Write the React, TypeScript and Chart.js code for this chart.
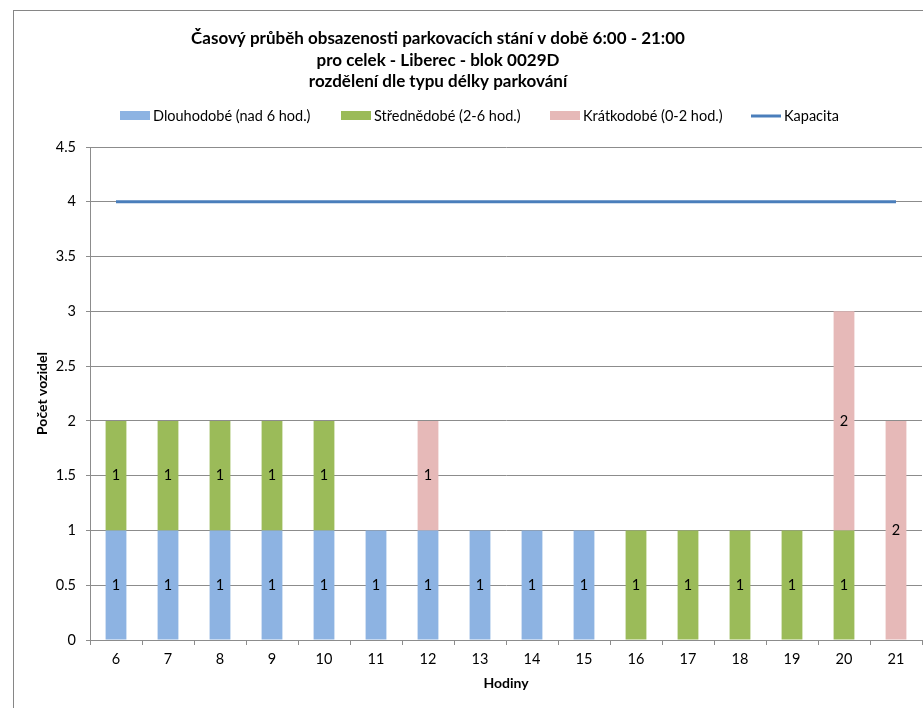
import React, { useEffect, useRef } from 'react';
import { Chart, registerables } from 'chart.js';

Chart.register(...registerables);

const hours = ['6', '7', '8', '9', '10', '11', '12', '13', '14', '15', '16', '17', '18', '19', '20', '21'];
const longTerm = [1, 1, 1, 1, 1, 1, 1, 1, 1, 1, null, null, null, null, null, null];
const midTerm = [1, 1, 1, 1, 1, null, null, null, null, null, 1, 1, 1, 1, 1, null];
const shortTerm = [null, null, null, null, null, null, 1, null, null, null, null, null, null, null, 2, 2];
const capacity = [4, 4, 4, 4, 4, 4, 4, 4, 4, 4, 4, 4, 4, 4, 4, 4];

const titleLines = [
  'Časový průběh obsazenosti parkovacích stání v době 6:00 - 21:00',
  'pro celek - Liberec - blok 0029D',
  'rozdělení dle typu délky parkování',
];
const seriesNames = ['Dlouhodobé (nad 6 hod.)', 'Střednědobé (2-6 hod.)', 'Krátkodobé (0-2 hod.)', 'Kapacita'];
const yAxisTitle = 'Počet vozidel';
const xAxisTitle = 'Hodiny';

const FONT = 'Lato, "Liberation Sans", sans-serif';
const COLORS = ['#8DB3E2', '#9BBB59', '#E6B9B8', '#4A7EBB'];
const GRID = '#8C8C8C';
const FS = 14.5;

const decorPlugin = {
  id: 'decor',
  beforeDraw(chart: any) {
    const ctx = chart.ctx;
    ctx.save();
    ctx.fillStyle = '#fff';
    ctx.fillRect(0, 0, chart.width, chart.height);
    ctx.strokeStyle = '#868686';
    ctx.lineWidth = 1;
    ctx.strokeRect(13.5, 10.5, chart.width + 20, chart.height + 20);
    ctx.restore();
  },
  afterDraw(chart: any) {
    const ctx = chart.ctx;
    ctx.save();
    ctx.fillStyle = '#000';
    ctx.textAlign = 'center';
    ctx.textBaseline = 'middle';
    ctx.font = `bold 17px ${FONT}`;
    const titleY = [39, 61, 82];
    titleLines.forEach((t, i) => ctx.fillText(t, 438, titleY[i]));
    ctx.font = `${FS}px ${FONT}`;
    ctx.textAlign = 'left';
    const starts = [120, 341, 550, 751];
    const ly = 116;
    seriesNames.forEach((name, i) => {
      const x = starts[i];
      if (i < 3) {
        ctx.fillStyle = COLORS[i];
        ctx.fillRect(x, ly - 5, 30, 9);
      } else {
        ctx.strokeStyle = COLORS[i];
        ctx.lineWidth = 3;
        ctx.beginPath();
        ctx.moveTo(x, ly);
        ctx.lineTo(x + 30, ly);
        ctx.stroke();
      }
      ctx.fillStyle = '#000';
      ctx.fillText(name, x + 33, ly);
    });
    ctx.restore();
  },
  afterDatasetsDraw(chart: any) {
    const ctx = chart.ctx;
    ctx.save();
    ctx.font = `${FS}px ${FONT}`;
    ctx.fillStyle = '#000';
    ctx.textAlign = 'center';
    ctx.textBaseline = 'middle';
    chart.data.datasets.forEach((ds: any, di: number) => {
      if (ds.type === 'line') return;
      const meta = chart.getDatasetMeta(di);
      meta.data.forEach((el: any, i: number) => {
        const v = ds.data[i];
        if (v == null || v === 0) return;
        ctx.fillText(String(v), el.x, (el.y + el.base) / 2);
      });
    });
    ctx.restore();
  },
};

export default function App() {
  const ref = useRef<HTMLCanvasElement | null>(null);
  useEffect(() => {
    if (!ref.current) return;
    const barCommon = { categoryPercentage: 1, barPercentage: 0.4, stack: 'occ', borderWidth: 0 };
    const chart = new Chart(ref.current, {
      type: 'bar',
      data: {
        labels: hours,
        datasets: [
          { type: 'bar', label: seriesNames[0], data: longTerm, backgroundColor: COLORS[0], ...barCommon, order: 2 },
          { type: 'bar', label: seriesNames[1], data: midTerm, backgroundColor: COLORS[1], ...barCommon, order: 2 },
          { type: 'bar', label: seriesNames[2], data: shortTerm, backgroundColor: COLORS[2], ...barCommon, order: 2 },
          {
            type: 'line', label: seriesNames[3], data: capacity, borderColor: COLORS[3], borderWidth: 3,
            pointRadius: 0, stack: 'cap', order: 1, tension: 0,
          },
        ],
      } as any,
      options: {
        animation: false,
        responsive: false,
        maintainAspectRatio: false,
        layout: { padding: { top: 147, right: 1, left: 0, bottom: 0 } },
        plugins: { legend: { display: false }, title: { display: false }, tooltip: { enabled: false } },
        scales: {
          x: {
            stacked: true,
            offset: true,
            grid: { offset: true, drawOnChartArea: false, drawTicks: true, tickLength: 5, color: GRID },
            border: { color: GRID },
            ticks: { color: '#000', font: { family: FONT, size: FS }, padding: 6, maxRotation: 0, autoSkip: false },
            title: { display: true, text: xAxisTitle, color: '#000', font: { family: FONT, size: 14, weight: 'bold' }, padding: { top: 0, bottom: 16 } },
            afterFit(scale: any) { scale.height = 68; },
          },
          y: {
            stacked: true,
            min: 0,
            max: 4.5,
            ticks: {
              stepSize: 0.5, color: '#000', font: { family: FONT, size: FS }, padding: 10,
              callback: (v: any) => String(Math.round(Number(v) * 10) / 10),
            },
            grid: { color: GRID, tickLength: 4, drawTicks: true },
            border: { color: GRID },
            title: { display: true, text: yAxisTitle, color: '#000', font: { family: FONT, size: 14, weight: 'bold' }, padding: { top: 34, bottom: 0 } },
            afterFit(scale: any) { scale.width = 90; },
          },
        },
      } as any,
      plugins: [decorPlugin],
    });
    return () => chart.destroy();
  }, []);
  return (
    <div style={{ position: 'absolute', left: 0, top: 0, width: 923, height: 708, overflow: 'hidden' }}>
      <canvas ref={ref} width={923} height={708} style={{ width: 923, height: 708, display: 'block' }} />
    </div>
  );
}
